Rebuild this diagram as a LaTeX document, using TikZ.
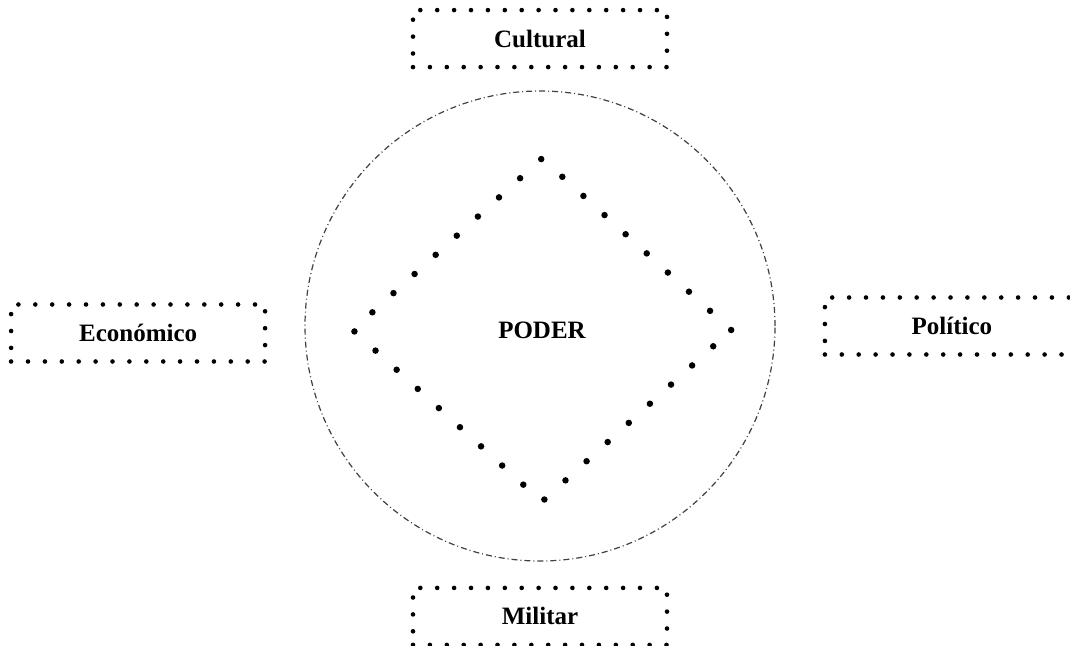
\documentclass[tikz,border=0pt]{standalone}
\usepackage{fontspec}
\setmainfont{Liberation Serif}
\usetikzlibrary{
  shapes.geometric,
  positioning
}
\definecolor{pdInk}{HTML}{000000}
\definecolor{pdRing}{HTML}{404040}
\tikzset{
  pdtext/.style={font=\fontsize{25}{30}\selectfont\bfseries, text=pdInk},
  esfera/.style={
    pdtext, draw=pdInk, line width=4.6pt, line cap=round,
    dash pattern=on 0pt off 16.9pt,
    minimum width=254pt, minimum height=57pt, inner sep=0pt
  },
  ambito/.style={
    circle, draw=pdRing, line width=1.2pt,
    dash pattern=on 6pt off 3pt on 1pt off 3pt,
    minimum size=470pt, inner sep=0pt
  },
  diamante/.style={
    diamond, pdtext, draw=pdInk, line width=6.5pt, line cap=round,
    dash pattern=on 0pt off 28.5pt,
    minimum width=381pt, minimum height=346pt, inner sep=0pt
  }
}
\begin{document}
\begin{tikzpicture}[x=1pt, y=-1pt]
  \useasboundingbox (0,0) rectangle (1070,645);
  \node[ambito] (ambito) at (540,326) {};
  \node[diamante] (poder) at (542,330) {PODER};
  \node[esfera, above=21pt of ambito] (cultural) {Cultural};
  \node[esfera, below=24pt of ambito] (militar) {Militar};
  \node[esfera, left=37pt of ambito, yshift=-7pt] (economico) {Económico};
  \node[esfera, right=47pt of ambito] (politico) {Político};
\end{tikzpicture}
\end{document}
